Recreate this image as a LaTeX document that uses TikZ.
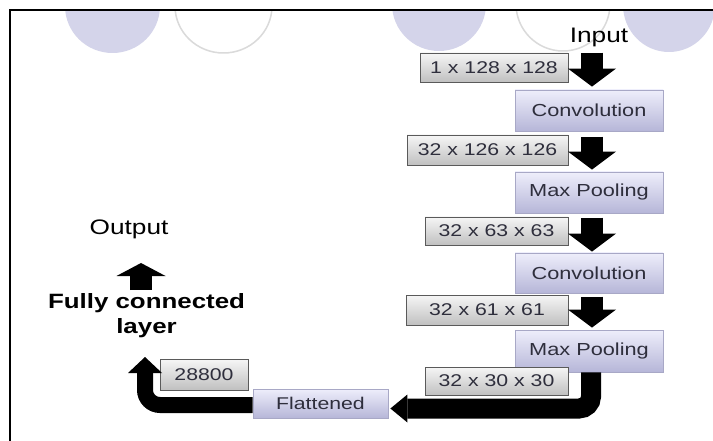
\documentclass[tikz,border=0pt]{standalone}
\usepackage{fontspec}
\setmainfont[FakeStretch=1.25]{Liberation Sans}
\usetikzlibrary{arrows.meta,calc}
\definecolor{circfill}{HTML}{D4D4EA}
\definecolor{circline}{HTML}{DADADA}
\definecolor{lbltop}{HTML}{F6F6F6}
\definecolor{lblbot}{HTML}{C0C0C0}
\definecolor{lblborder}{HTML}{5A5A5A}
\definecolor{laytop}{HTML}{EEEEFB}
\definecolor{laybot}{HTML}{B6B6D8}
\definecolor{layborder}{HTML}{A8A8C6}
\definecolor{boxtext}{HTML}{2E2E3C}
\begin{document}
\begin{tikzpicture}[x=1pt,y=-1pt,
  lbl/.style={draw=lblborder, line width=0.9pt, top color=lbltop, bottom color=lblbot,
    inner sep=0pt, text=boxtext, font=\fontsize{17}{20}\selectfont},
  layerbox/.style={draw=layborder, line width=0.8pt, top color=laytop, bottom color=laybot,
    inner sep=0pt, minimum width=148pt, text=boxtext, font=\fontsize{17.4}{20}\selectfont},
  title/.style={inner sep=0pt, text=black, font=\fontsize{21}{25}\selectfont},
  dnarrow/.style={line width=22pt, -{Triangle[width=48pt,length=18pt,line width=0pt]}},
  bigarrow/.style={line width=#1, rounded corners=12pt},
  filledcirc/.style={fill=circfill, draw=none},
  opencirc/.style={fill=white, draw=circline, line width=1.5pt}
]
\useasboundingbox (0,0) rectangle (713,441);
\fill[white] (0,0) rectangle (713,441);

% decorative circles, clipped by the frame
\begin{scope}
  \clip (10,10) rectangle (713,441);
  \fill[filledcirc] (112.5,6) ellipse (47.5 and 47);
  \draw[opencirc] (223.5,6) ellipse (48.5 and 47);
  \fill[filledcirc] (439,4) ellipse (47 and 47);
  \draw[opencirc] (563,4) ellipse (47 and 47);
  \fill[filledcirc] (669,5) ellipse (46 and 47);
\end{scope}

% frame
\draw[line width=2pt] (10,441) -- (10,10) -- (713,10);

% texts
\node[title, anchor=base] (input) at (599,43) {Input};
\node[title, anchor=base] (output) at (129,235) {Output};
\node[inner sep=0pt, align=center, anchor=north, font=\fontsize{20.7}{25.5}\selectfont\bfseries]
  (fc) at (146.5,293) {Fully connected\\layer};

% layer boxes
\node[layerbox, minimum height=41pt] (c1) at (589,110.5) {Convolution};
\node[layerbox, minimum height=41pt] (p1) at (589,192.5) {Max Pooling};
\node[layerbox, minimum height=40pt] (c2) at (589,273) {Convolution};
\node[layerbox, minimum height=42pt] (p2) at (589,351) {Max Pooling};
\node[layerbox, minimum width=135pt, minimum height=29pt, font=\fontsize{17}{20}\selectfont] (fl) at (320.5,403.5) {Flattened};

% size labels
\node[lbl, minimum width=148pt, minimum height=29pt] (l1) at (494,67.5) {1 x 128 x 128};
\node[lbl, minimum width=161pt, minimum height=30pt] (l2) at (487.5,150) {32 x 126 x 126};
\node[lbl, minimum width=143pt, minimum height=28pt] (l3) at (496.5,231) {32 x 63 x 63};
\node[lbl, minimum width=162pt, minimum height=30pt] (l4) at (487,310) {32 x 61 x 61};
\node[lbl, minimum width=143pt, minimum height=28pt] (l5) at (496.5,381) {32 x 30 x 30};
\node[lbl, minimum width=88pt, minimum height=31pt] (l6) at (204,374.5) {28800};

% down arrows
\draw[dnarrow] ($(c1.north |- l1.north)+(3,0)$) -- ($(c1.north)+(3,-3)$);
\draw[dnarrow] ($(p1.north |- l2.north)+(3,2)$) -- ($(p1.north)+(3,-2)$);
\draw[dnarrow] ($(c2.north |- l3.north)+(3,1)$) -- ($(c2.north)+(3,-1)$);
\draw[dnarrow] ($(p2.north |- l4.north)+(3,2)$) -- ($(p2.north)+(3,-2)$);

% bent arrow from last pooling to flattened
\draw[line width=20pt, rounded corners=12pt, -{Triangle[width=28pt,length=17pt,line width=0pt]}]
  ($(p2.south)+(2,0)$) |- ($(fl.east)+(2,5)$);

% bent arrow from flattened up to fully connected layer
\coordinate (fcin) at (145,357);
\draw[line width=16pt, rounded corners=15pt, -{Triangle[width=34pt,length=16pt,line width=0pt]}]
  ($(fl.west)+(0,1.5)$) -| (fcin);

% arrow from fully connected layer to output
\coordinate (outtip) at (141,263);
\draw[line width=22pt, -{Triangle[width=49pt,length=13pt,line width=0pt]}]
  ($(fc.north)+(-5.5,-3)$) -- (outtip);
\end{tikzpicture}
\end{document}
